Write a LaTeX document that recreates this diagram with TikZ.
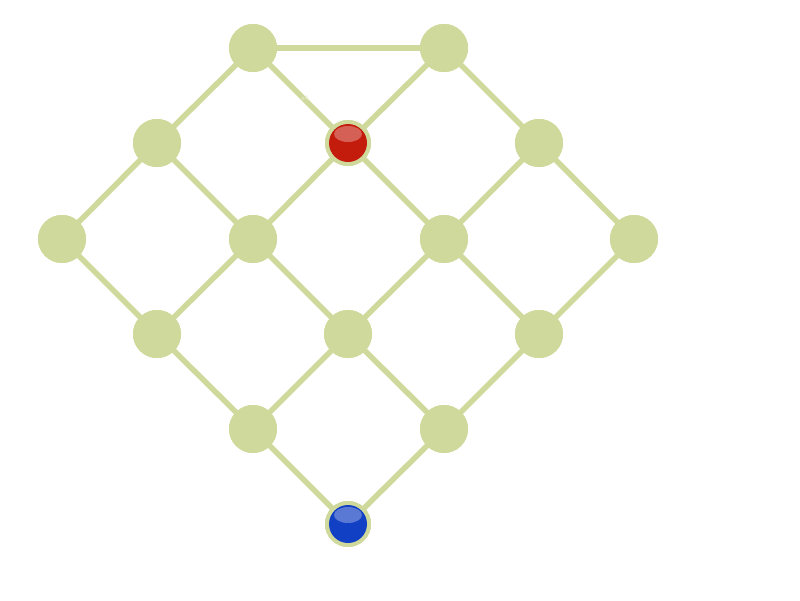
\documentclass[tikz,border=0pt]{standalone}
\begin{document}
\begin{tikzpicture}[x=1pt,y=-1pt]
\definecolor{gnode}{RGB}{207,217,155}
\definecolor{redball}{RGB}{196,28,12}
\definecolor{blueball}{RGB}{18,64,196}
\definecolor{lblc}{RGB}{232,236,212}
\tikzset{
  vtx/.style={circle,fill=gnode,minimum size=48pt,inner sep=0pt},
  edge/.style={draw=gnode,line width=5.5pt},
  ballnode/.style={circle,fill=gnode,minimum size=46pt,inner sep=0pt},
  lbl/.style={font=\fontsize{7}{8}\selectfont\sffamily,text=lblc}
}
\useasboundingbox (0,0) rectangle (800,600);
\fill[white] (0,0) rectangle (800,600);
% nodes
\node[vtx] (a1) at (253,48) {};
\node[vtx] (a2) at (444,48) {};
\node[vtx] (b1) at (157,143) {};
\node[ballnode] (b2) at (348,143) {};
\node[vtx] (b3) at (539,143) {};
\node[vtx] (c1) at (62,239) {};
\node[vtx] (c2) at (253,239) {};
\node[vtx] (c3) at (444,239) {};
\node[vtx] (c4) at (634,239) {};
\node[vtx] (d1) at (157,334) {};
\node[vtx] (d2) at (348,334) {};
\node[vtx] (d3) at (539,334) {};
\node[vtx] (e1) at (253,429) {};
\node[vtx] (e2) at (444,429) {};
\node[ballnode] (f1) at (348,524) {};
% edges
\foreach \u/\v in {a1/a2,a1/b1,a1/b2,a2/b2,a2/b3,b1/c1,b1/c2,b2/c2,b2/c3,b3/c3,b3/c4,
  c1/d1,c2/d1,c2/d2,c3/d2,c3/d3,c4/d3,d1/e1,d2/e1,d2/e2,d3/e2,e1/f1,e2/f1}
  \draw[edge] (\u.center) -- (\v.center);
% redraw nodes on top
\foreach \n in {a1,a2,b1,b3,c1,c2,c3,c4,d1,d2,d3,e1,e2}
  \fill[gnode] (\n.center) circle (24);
\fill[gnode] (b2.center) circle (23);
\fill[gnode] (f1.center) circle (23);
% red ball
\fill[redball] (b2.center) circle (19);
\fill[white,opacity=0.3] ([yshift=9]b2.center) ellipse (14 and 8);
\fill[red!50!black,opacity=0.25] ([yshift=3]b2.center) rectangle ([yshift=-1]b2.center);
% blue ball
\fill[blueball] (f1.center) circle (19);
\fill[white,opacity=0.3] ([yshift=9]f1.center) ellipse (14 and 8);
\fill[blue!50!black,opacity=0.25] ([yshift=3]f1.center) rectangle ([yshift=-1]f1.center);
% label
\node[lbl] (lab) at (305,98) {e4};
\end{tikzpicture}
\end{document}
